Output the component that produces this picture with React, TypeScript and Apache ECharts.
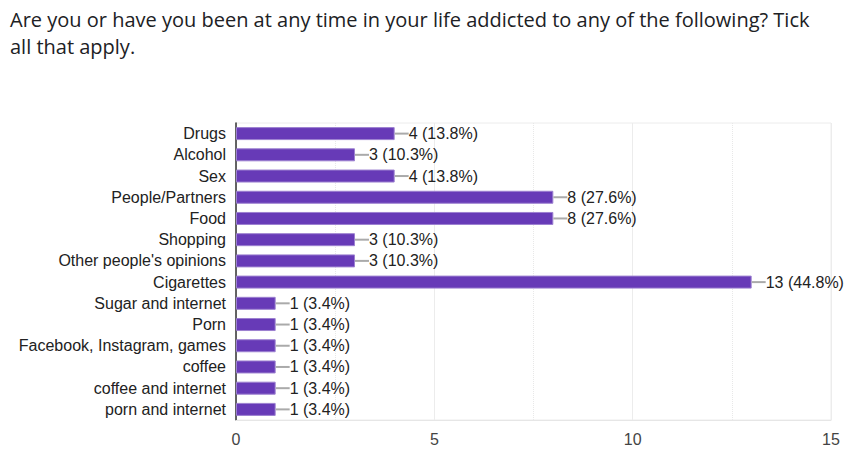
import React, { useEffect, useRef } from "react";
import * as echarts from "echarts";

const titleLines = [
  "Are you or have you been at any time in your life addicted to any of the following? Tick",
  "all that apply.",
];
const categories = [
  "Drugs",
  "Alcohol",
  "Sex",
  "People/Partners",
  "Food",
  "Shopping",
  "Other people's opinions",
  "Cigarettes",
  "Sugar and internet",
  "Porn",
  "Facebook, Instagram, games",
  "coffee",
  "coffee and internet",
  "porn and internet",
];
const counts = [4, 3, 4, 8, 8, 3, 3, 13, 1, 1, 1, 1, 1, 1];
const respondents = 29;
const xTicks = [0, 5, 10, 15];

export default function App() {
  const ref = useRef<HTMLDivElement>(null);
  useEffect(() => {
    if (!ref.current) return;
    const chart = echarts.init(ref.current, null, { renderer: "svg" });
    const labelData = counts.map((v, i) => [
      v,
      i,
      `${v} (${((v / respondents) * 100).toFixed(1)}%)`,
    ]);
    chart.setOption({
      animation: false,
      backgroundColor: "#ffffff",
      title: {
        text: titleLines.join("\n"),
        left: 5,
        top: 1,
        textStyle: {
          fontFamily: "Open Sans",
          fontSize: 20,
          fontWeight: "normal",
          color: "#202124",
          lineHeight: 27,
        },
      },
      grid: {
        left: 236,
        right: 35,
        top: 123,
        bottom: 48,
        show: true,
        borderColor: "#ececec",
        borderWidth: 1,
      },
      xAxis: {
        type: "value",
        min: xTicks[0],
        max: xTicks[xTicks.length - 1],
        interval: 5,
        axisLine: { show: true, lineStyle: { color: "#e6e6e6" } },
        axisTick: { show: false },
        axisLabel: {
          fontFamily: "Liberation Sans",
          fontSize: 16,
          color: "#444",
          margin: 11,
        },
        splitLine: { show: true, lineStyle: { color: "#ececec", width: 1 } },
        minorTick: { show: false, splitNumber: 2 },
        minorSplitLine: {
          show: true,
          lineStyle: { color: "#e8e8e8", type: "dotted", width: 1 },
        },
      },
      yAxis: {
        type: "category",
        data: categories,
        inverse: true,
        axisLine: { show: true, onZero: false, lineStyle: { color: "#333", width: 1.5 } },
        axisTick: { show: false },
        axisLabel: {
          fontFamily: "Liberation Sans",
          fontSize: 16,
          color: "#222",
          margin: 10,
        },
        splitLine: { show: false },
      },
      series: [
        {
          type: "bar",
          data: counts,
          barWidth: 13,
          itemStyle: { color: "#673ab7", borderColor: "#9c80d0", borderWidth: 1 },
          z: 2,
        },
        {
          type: "custom",
          data: labelData,
          encode: { x: 0, y: 1 },
          z: 3,
          renderItem: (params: any, api: any) => {
            const p = api.coord([api.value(0), api.value(1)]);
            const txt = labelData[params.dataIndex][2] as string;
            return {
              type: "group",
              children: [
                {
                  type: "line",
                  shape: { x1: p[0], y1: p[1], x2: p[0] + 14, y2: p[1] },
                  style: { stroke: "#aaaaaa", lineWidth: 2 },
                },
                {
                  type: "text",
                  x: p[0] + 14,
                  y: p[1],
                  style: {
                    text: txt,
                    fontFamily: "Liberation Sans",
                    fontSize: 16,
                    fill: "#222",
                    align: "left",
                    verticalAlign: "middle",
                  },
                },
              ],
            };
          },
        },
      ],
    });
    return () => chart.dispose();
  }, []);
  return <div ref={ref} style={{ width: 866, height: 468, position: "absolute", left: 0, top: 0 }} />;
}
